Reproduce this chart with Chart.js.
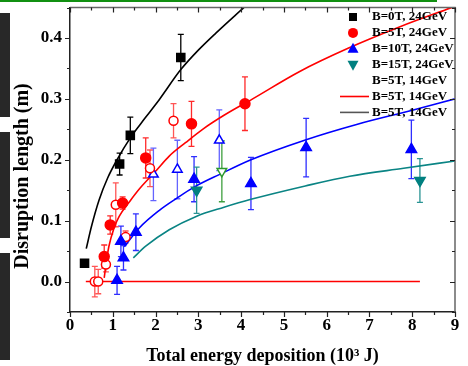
<!DOCTYPE html>
<html>
<head>
<meta charset="utf-8">
<script src="https://cdn.jsdelivr.net/npm/chart.js@4"></script>
<style>
  html, body { margin: 0; padding: 0; background: #fff; }
  #wrap { position: relative; width: 468px; height: 366px; }
  #chart1 { position: absolute; left: 0; top: 0; }
  .edge { position: absolute; left: 0; width: 10px; background: #282828; }
  .topline { position: absolute; left: 0; top: 0; width: 437px; height: 2px; background: #119011; }
</style>
</head>
<body>
<div id="wrap">
  <canvas id="chart1" width="468" height="366"></canvas>
  <div class="topline"></div>
  <div class="edge" style="top:13px;height:104px"></div>
  <div class="edge" style="top:132px;height:106px"></div>
  <div class="edge" style="top:253px;height:107px"></div>
</div>
<script>
'use strict';

// measured points (x in 10^3 J, y in m) and their error half-widths
var b0X = [0.34, 1.16, 1.41, 2.59];
var b0Y = [0.030, 0.193, 0.240, 0.368];
var b0Err = [0.006, 0.018, 0.030, 0.038];

var b5X = [0.80, 0.94, 1.23, 1.77, 2.84, 4.09];
var b5Y = [0.041, 0.093, 0.129, 0.203, 0.259, 0.292];
var b5Err = [0.019, 0.015, 0.010, 0.033, 0.037, 0.044];

var b10X = [1.10, 1.19, 1.25, 1.54, 2.90, 4.23, 5.52, 7.98];
var b10Y = [0.002, 0.066, 0.039, 0.081, 0.168, 0.161, 0.220, 0.217];
var b10Err = [0.023, 0.025, 0.020, 0.030, 0.037, 0.043, 0.048, 0.048];

var b15X = [2.96, 8.18];
var b15Y = [0.150, 0.166];
var b15Err = [0.038, 0.036];

var b5lowX = [0.58, 0.66, 0.84, 1.07, 1.30, 1.87, 2.42];
var b5lowY = [0.000, 0.000, 0.028, 0.126, 0.073, 0.186, 0.264];
var b5lowErr = [0.025, 0.020, 0.012, 0.036, 0.010, 0.030, 0.028];

var b10lowX = [1.95, 2.51, 3.49];
var b10lowY = [0.176, 0.184, 0.232];
var b10lowErr = [0.043, 0.048, 0.050];

var b15lowX = [3.55];
var b15lowY = [0.181];
var b15lowErr = [0.050];

// fitted curves
var fitBlackX = [0.38, 0.50, 0.68, 0.88, 1.10, 1.41, 1.75, 2.09, 2.59, 3.00, 3.41, 4.08];
var fitBlackY = [0.054, 0.090, 0.134, 0.170, 0.200, 0.236, 0.268, 0.299, 0.348, 0.380, 0.408, 0.451];

var fitRedX = [0.80, 0.84, 0.91, 1.03, 1.15, 1.40, 1.62, 2.00, 2.32, 2.70, 3.10, 3.60, 4.27, 5.37, 6.50, 7.70, 9.00];
var fitRedY = [0.006, 0.028, 0.058, 0.088, 0.107, 0.132, 0.152, 0.181, 0.206, 0.228, 0.250, 0.273, 0.300, 0.345, 0.383, 0.418, 0.452];

var fitBlueX = [1.27, 1.62, 2.09, 2.50, 2.90, 3.50, 4.23, 5.52, 6.70, 7.98, 9.00];
var fitBlueY = [0.057, 0.088, 0.117, 0.137, 0.155, 0.176, 0.200, 0.233, 0.258, 0.281, 0.300];

var fitTealX = [1.48, 1.77, 2.32, 2.95, 3.60, 4.23, 5.50, 6.54, 7.80, 9.00];
var fitTealY = [0.039, 0.058, 0.085, 0.107, 0.122, 0.135, 0.157, 0.173, 0.186, 0.198];

var zeroLineX = [0.37, 8.18];
var zeroLineY = [0, 0];

var legendLabels = ['B=0T, 24GeV', 'B=5T, 24GeV', 'B=10T, 24GeV', 'B=15T, 24GeV',
  'B=5T, 14GeV', 'B=5T, 14GeV', 'B=5T, 14GeV'];

var FONT = '"Liberation Serif", "Times New Roman", serif';

var pts = function(xs, ys) {
	return xs.map(function(x, i) { return {x: x, y: ys[i]}; });
};

var marker = function(xs, ys, errs, style, fill, border, radius, rotation, errColor) {
	return {
		data: pts(xs, ys),
		errors: errs,
		errorColor: errColor,
		showLine: false,
		pointStyle: style,
		pointRotation: rotation,
		pointRadius: radius,
		pointBackgroundColor: fill,
		pointBorderColor: border,
		pointBorderWidth: 1.5
	};
};

var curve = function(xs, ys, color) {
	return {
		data: pts(xs, ys),
		showLine: true,
		borderColor: color,
		borderWidth: 1.6,
		pointRadius: 0,
		cubicInterpolationMode: 'monotone',
		fill: false
	};
};

// vertical error bars with caps, placed through the chart scales
var errorBars = {
	id: 'errorBars',
	beforeDatasetsDraw: function(chart) {
		var ctx = chart.ctx, xs = chart.scales.x, ys = chart.scales.y;
		chart.data.datasets.forEach(function(ds) {
			if (!ds.errors) return;
			ctx.save();
			ctx.strokeStyle = ds.errorColor;
			ctx.lineWidth = 1.3;
			ds.data.forEach(function(p, i) {
				var px = xs.getPixelForValue(p.x);
				var top = ys.getPixelForValue(p.y + ds.errors[i]);
				var bot = ys.getPixelForValue(p.y - ds.errors[i]);
				ctx.beginPath();
				ctx.moveTo(px, top); ctx.lineTo(px, bot);
				ctx.moveTo(px - 3, top); ctx.lineTo(px + 3, top);
				ctx.moveTo(px - 3, bot); ctx.lineTo(px + 3, bot);
				ctx.stroke();
			});
			ctx.restore();
		});
	}
};

// frame with major/minor ticks: outward on bottom/left, inward on top/right
var frameTicks = {
	id: 'frameTicks',
	afterDatasetsDraw: function(chart) {
		var ctx = chart.ctx, a = chart.chartArea, xs = chart.scales.x, ys = chart.scales.y;
		ctx.save();
		ctx.strokeStyle = '#666';
		ctx.lineWidth = 1.5;
		ctx.beginPath();
		ctx.moveTo(a.left, a.top); ctx.lineTo(a.right, a.top); ctx.lineTo(a.right, a.bottom);
		ctx.stroke();
		ctx.strokeStyle = '#222';
		ctx.lineWidth = 1.2;
		xs.ticks.forEach(function(t) {
			var px = Math.round(xs.getPixelForValue(t.value)) + 0.5;
			var len = Math.abs(t.value - Math.round(t.value)) < 1e-6 ? 5 : 3;
			ctx.beginPath();
			ctx.moveTo(px, a.bottom); ctx.lineTo(px, a.bottom + len);
			ctx.moveTo(px, a.top); ctx.lineTo(px, a.top + len);
			ctx.stroke();
		});
		ys.ticks.forEach(function(t) {
			var py = Math.round(ys.getPixelForValue(t.value)) + 0.5;
			var v = t.value * 10;
			var len = Math.abs(v - Math.round(v)) < 1e-6 ? 5 : 3;
			ctx.beginPath();
			ctx.moveTo(a.left, py); ctx.lineTo(a.left - len, py);
			ctx.moveTo(a.right, py); ctx.lineTo(a.right - len, py);
			ctx.stroke();
		});
		ctx.restore();
	}
};

// y-axis title, drawn by hand so it can sit a little below the middle
var yTitle = {
	id: 'yTitle',
	afterDraw: function(chart) {
		var ctx = chart.ctx;
		ctx.save();
		ctx.translate(23, 176);
		ctx.rotate(-Math.PI / 2);
		ctx.font = 'bold 20px ' + FONT;
		ctx.fillStyle = '#000';
		ctx.textAlign = 'center';
		ctx.textBaseline = 'middle';
		ctx.fillText('Disruption length (m)', 0, 0);
		ctx.restore();
	}
};

// legend inside the plot, top right
var legendBox = {
	id: 'legendBox',
	afterDraw: function(chart) {
		var ctx = chart.ctx;
		var sx = 353, tx = 372, y0 = 17, step = 15.9;
		ctx.save();
		ctx.font = 'bold 13px ' + FONT;
		ctx.textBaseline = 'middle';
		ctx.fillStyle = '#000';
		legendLabels.forEach(function(label, i) {
			ctx.fillText(label, tx, y0 + i * step);
		});
		// symbols
		var y = y0;
		ctx.fillStyle = '#000';
		ctx.fillRect(sx - 4, y - 4, 8, 8);
		y = y0 + step;
		ctx.fillStyle = '#ff0000';
		ctx.beginPath(); ctx.arc(sx, y, 5, 0, Math.PI * 2); ctx.fill();
		y = y0 + 2 * step;
		ctx.fillStyle = '#0000ff';
		ctx.beginPath(); ctx.moveTo(sx, y - 6); ctx.lineTo(sx + 5.5, y + 4); ctx.lineTo(sx - 5.5, y + 4); ctx.closePath(); ctx.fill();
		y = y0 + 3 * step;
		ctx.fillStyle = '#008080';
		ctx.beginPath(); ctx.moveTo(sx, y + 6); ctx.lineTo(sx + 5.5, y - 4); ctx.lineTo(sx - 5.5, y - 4); ctx.closePath(); ctx.fill();
		ctx.lineWidth = 1.6;
		y = y0 + 5 * step;
		ctx.strokeStyle = '#ff0000';
		ctx.beginPath(); ctx.moveTo(340, y); ctx.lineTo(369, y); ctx.stroke();
		y = y0 + 6 * step;
		ctx.strokeStyle = '#555';
		ctx.beginPath(); ctx.moveTo(340, y); ctx.lineTo(369, y); ctx.stroke();
		ctx.restore();
	}
};

var ctx = document.getElementById('chart1').getContext('2d');
var sampleChart = new Chart(ctx, {
	type: 'scatter',
	data: {
		datasets: [
			marker(b0X, b0Y, b0Err, 'rect', '#000', '#000', 5.7, 0, '#000'),
			marker(b5X, b5Y, b5Err, 'circle', '#ff0000', '#ff0000', 5, 0, '#ff2a2a'),
			marker(b10X, b10Y, b10Err, 'triangle', '#0000ff', '#0000ff', 6, 0, '#2f2fff'),
			marker(b15X, b15Y, b15Err, 'triangle', '#008080', '#008080', 6, 180, '#2a9494'),
			marker(b5lowX, b5lowY, b5lowErr, 'circle', '#fff', '#ff0000', 4.5, 0, '#ff5555'),
			marker(b10lowX, b10lowY, b10lowErr, 'triangle', '#fff', '#0000ff', 5.5, 0, '#6464ff'),
			marker(b15lowX, b15lowY, b15lowErr, 'triangle', '#fff', '#2e9a2e', 5.5, 180, '#3f9f3f'),
			curve(fitBlackX, fitBlackY, '#000'),
			curve(fitRedX, fitRedY, '#ff0000'),
			curve(fitBlueX, fitBlueY, '#0000ff'),
			curve(fitTealX, fitTealY, '#0a8484'),
			curve(zeroLineX, zeroLineY, '#ff0000')
		]
	},
	options: {
		responsive: false,
		animation: false,
		layout: {
			padding: {top: 7, right: 13, left: 0, bottom: 0}
		},
		plugins: {
			legend: {display: false},
			tooltip: {enabled: false}
		},
		scales: {
			x: {
				type: 'linear',
				min: 0,
				max: 9,
				afterFit: function(scale) {
					scale.height = 54;
					scale.paddingLeft = 0;
					scale.paddingRight = 0;
				},
				border: {color: '#222', width: 1.5},
				grid: {drawOnChartArea: false, drawTicks: false},
				ticks: {
					stepSize: 0.5,
					padding: 3,
					maxRotation: 0,
					autoSkip: false,
					color: '#000',
					font: {family: FONT, size: 17, weight: 'bold'},
					callback: function(v) {
						return Math.abs(v - Math.round(v)) < 1e-6 ? String(Math.round(v)) : '';
					}
				},
				title: {
					display: true,
					text: 'Total energy deposition (10\u00B3 J)',
					color: '#000',
					font: {family: FONT, size: 18, weight: 'bold'},
					padding: {top: 0, bottom: -1}
				}
			},
			y: {
				type: 'linear',
				min: -0.05,
				max: 0.45,
				afterFit: function(scale) {
					scale.width = 70;
					scale.paddingTop = 0;
					scale.paddingBottom = 0;
				},
				border: {color: '#222', width: 1.5},
				grid: {drawOnChartArea: false, drawTicks: false},
				ticks: {
					stepSize: 0.05,
					padding: 8,
					autoSkip: false,
					color: '#000',
					font: {family: FONT, size: 17, weight: 'bold'},
					callback: function(v) {
						var t = v * 10;
						return Math.abs(t - Math.round(t)) < 1e-6 ? (Math.round(t) / 10).toFixed(1) : '';
					}
				}
			}
		}
	},
	plugins: [errorBars, frameTicks, yTitle, legendBox]
});
</script>
</body>
</html>
